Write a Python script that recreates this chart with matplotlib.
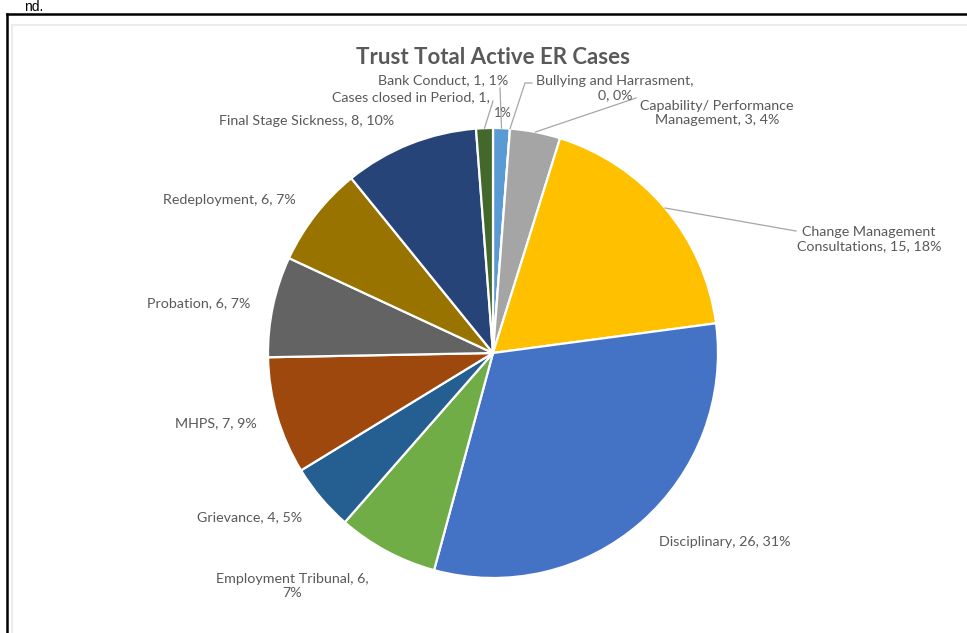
import numpy as np
import matplotlib
matplotlib.use("Agg")
import matplotlib.pyplot as plt
from matplotlib.lines import Line2D

# data
categories = ["Bank Conduct", "Bullying and Harrasment", "Capability/ Performance Management",
              "Change Management Consultations", "Disciplinary", "Employment Tribunal",
              "Grievance", "MHPS", "Probation", "Redeployment", "Final Stage Sickness",
              "Cases closed in Period"]
cases = [1, 0, 3, 15, 26, 6, 4, 7, 6, 6, 8, 1]
pct_labels = ["1%", "0%", "4%", "18%", "31%", "7%", "5%", "9%", "7%", "7%", "10%", "1%"]
colors = ["#5b9bd5", "#ed7d31", "#a5a5a5", "#ffc000", "#4472c4", "#70ad47",
          "#255e91", "#9e480e", "#636363", "#997300", "#264478", "#43682b"]

# label texts as laid out in the picture (line breaks)
label_text = ["Bank Conduct, 1, 1%",
              "Bullying and Harrasment,\n0, 0%",
              "Capability/ Performance\nManagement, 3, 4%",
              "Change Management\nConsultations, 15, 18%",
              "Disciplinary, 26, 31%",
              "Employment Tribunal, 6,\n7%",
              "Grievance, 4, 5%",
              "MHPS, 7, 9%",
              "Probation, 6, 7%",
              "Redeployment, 6, 7%",
              "Final Stage Sickness, 8, 10%",
              "Cases closed in Period, 1,\n1%"]

# layout (pixel coords from top-left)
W, H = 967, 633
cx, cy, R = 493, 353, 225
label_pos = [(443, 80), (615, 88), (717, 113), (869, 239), (725, 542), (292, 586),
             (250, 517), (216, 423), (199, 303), (229, 200), (307, 121), (411, 97)]
leader_end = {0: (500, 88), 1: (525, 83), 2: (636, 98), 3: (796, 231), 11: (493, 101)}

fig = plt.figure(figsize=(W / 100, H / 100), dpi=100)
ax = fig.add_axes([0, 0, 1, 1])

ax.pie(cases, colors=colors, startangle=90, counterclock=False, radius=R,
       center=(cx, H - cy), wedgeprops=dict(edgecolor="white", linewidth=1.6))
ax.set_xlim(0, W)
ax.set_ylim(0, H)
ax.set_aspect("equal")
ax.axis("off")

font = "Lato"
txt_color = "#595959"
fs = 10.3

ax.text(493, H - 57, "Trust Total Active ER Cases", ha="center", va="center",
        fontsize=16, fontweight="bold", color=txt_color, family=font)

for i, (lab, (lx, ly)) in enumerate(zip(label_text, label_pos)):
    if i == 11:
        # the "1%" of this label sits off to the right on the second line
        first, second = lab.split("\n")
        ax.text(lx, H - ly, first, ha="center", va="center",
                fontsize=fs, color=txt_color, family=font)
        ax.text(503, H - 113, second, ha="center", va="center",
                fontsize=fs * 0.9, color=txt_color, family=font)
        continue
    ax.text(lx, H - ly, lab, ha="center", va="center", fontsize=fs,
            color=txt_color, family=font, linespacing=1.15)

# leader lines from wedge mid-angle to the label
total = sum(cases)
cum = np.cumsum([0] + cases)
for i, (ex, ey) in leader_end.items():
    mid = (cum[i] + cases[i] / 2) / total * 2 * np.pi
    px = cx + R * np.sin(mid)
    py = cy - R * np.cos(mid)
    xs = [px, ex]
    ys = [H - py, H - ey]
    if i == 1:
        xs.append(532)
        ys.append(H - ey)
    ax.plot(xs, ys, color="#a6a6a6", linewidth=0.9)

# frame of the screenshot
fig.add_artist(Line2D([7 / W, 7 / W], [0, 1 - 14 / H], color="black", linewidth=1.8,
                      transform=fig.transFigure))
fig.add_artist(Line2D([7 / W, 1], [1 - 14 / H, 1 - 14 / H], color="black", linewidth=1.8,
                      transform=fig.transFigure))
fig.add_artist(Line2D([12 / W, 12 / W], [0, 1 - 25 / H], color="#ececec", linewidth=1.5,
                      transform=fig.transFigure))
fig.add_artist(Line2D([12 / W, 1], [1 - 25 / H, 1 - 25 / H], color="#ececec", linewidth=1.5,
                      transform=fig.transFigure))
fig.text(43 / W, 1 - 11 / H, "nd.", ha="right", va="baseline", fontsize=10,
         color="black", family="Liberation Sans")

fig.savefig("out.png", dpi=100)
